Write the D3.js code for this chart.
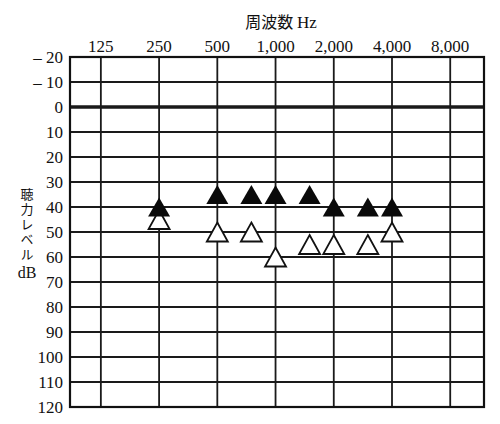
<!DOCTYPE html>
<html>
<head>
<meta charset="utf-8">
<script src="https://cdn.jsdelivr.net/npm/d3@7"></script>
<style>
  body { margin: 0; background: #fff; }
  text { fill: #111; }
</style>
</head>
<body>
<div id="chart"></div>
<script>
// audiogram values
var freqTicks = [125, 250, 500, 1000, 2000, 4000, 8000];
var freqLabels = ["125", "250", "500", "1,000", "2,000", "4,000", "8,000"];
var levelTicks = [-20, -10, 0, 10, 20, 30, 40, 50, 60, 70, 80, 90, 100, 110, 120];
var levelLabels = ["\u2013 20", "\u2013 10", "0", "10", "20", "30", "40", "50", "60", "70", "80", "90", "100", "110", "120"];
var pointFreqs = [250, 500, 750, 1000, 1500, 2000, 3000, 4000];
var filledLevels = [40, 35, 35, 35, 35, 40, 40, 40];
var openLevels = [45, 50, 50, 60, 55, 55, 55, 50];
var yTitle = "聴力レベル";
var yUnit = "dB";

var margin = {top: 57, right: 16, bottom: 17, left: 70},
    width = 500 - margin.left - margin.right,
    height = 424 - margin.top - margin.bottom;

var svg = d3.select("#chart").append("svg")
    .attr("width", 500)
    .attr("height", 424)
  .append("g")
    .attr("transform", "translate(" + margin.left + "," + margin.top + ")");

// log frequency axis, a little over half an octave padding each side
var x = d3.scaleLog().base(2)
    .domain([125 / Math.pow(2, 0.53), 8000 * Math.pow(2, 0.58)])
    .range([0, width]);

var y = d3.scaleLinear()
    .domain([-20, 120])
    .range([0, height]);

// horizontal grid
svg.selectAll(".hline")
    .data(levelTicks)
    .enter().append("line")
    .attr("x1", 0).attr("x2", width)
    .attr("y1", d => y(d)).attr("y2", d => y(d))
    .style("stroke", "#1a1a1a")
    .style("stroke-width", d => d === 0 ? 3.5 : 1.8);

// vertical grid
svg.selectAll(".vline")
    .data(freqTicks)
    .enter().append("line")
    .attr("x1", d => x(d)).attr("x2", d => x(d))
    .attr("y1", 0).attr("y2", height)
    .style("stroke", "#1a1a1a")
    .style("stroke-width", 1.8);

// frame
svg.append("rect")
    .attr("width", width).attr("height", height)
    .style("fill", "none")
    .style("stroke", "#111")
    .style("stroke-width", 2.2);

// top frequency labels
svg.append("g").selectAll("text")
    .data(freqTicks)
    .enter().append("text")
    .attr("x", d => x(d))
    .attr("y", -5)
    .style("text-anchor", "middle")
    .style("font", "17px 'Liberation Serif'")
    .text((d, i) => freqLabels[i]);

// left level labels
svg.append("g").selectAll("text")
    .data(levelTicks)
    .enter().append("text")
    .attr("x", -7)
    .attr("y", d => y(d))
    .attr("dy", "0.35em")
    .style("text-anchor", "end")
    .style("font", "17px 'Liberation Serif'")
    .text((d, i) => levelLabels[i]);

// title
var title = svg.append("text")
    .attr("x", 211)
    .attr("y", -29)
    .style("text-anchor", "middle");
title.append("tspan")
    .style("font", "16px 'Noto Sans CJK JP'")
    .text("周波数 ");
title.append("tspan")
    .style("font", "17px 'Liberation Serif'")
    .text("Hz");

// vertical y title, then the unit below it
svg.append("text")
    .attr("x", 27 - margin.left)
    .attr("y", 188 - margin.top)
    .style("writing-mode", "vertical-rl")
    .style("letter-spacing", "2px")
    .style("font", "13px 'Noto Sans CJK JP'")
    .text(yTitle);

svg.append("text")
    .attr("x", 27 - margin.left)
    .attr("y", 278 - margin.top)
    .style("text-anchor", "middle")
    .style("font", "16px 'Liberation Serif'")
    .text(yUnit);

// triangle centred on its bounding box
function tri(w, h) {
  return "M0," + (-h / 2) + "L" + (w / 2) + "," + (h / 2) + "L" + (-w / 2) + "," + (h / 2) + "Z";
}

svg.selectAll(".open")
    .data(pointFreqs)
    .enter().append("path")
    .attr("d", tri(21, 19))
    .attr("transform", (d, i) => "translate(" + x(d) + "," + y(openLevels[i]) + ")")
    .style("fill", "#fff")
    .style("stroke", "#111")
    .style("stroke-width", 1.8)
    .style("stroke-linejoin", "miter");

svg.selectAll(".filled")
    .data(pointFreqs)
    .enter().append("path")
    .attr("d", tri(22, 19))
    .attr("transform", (d, i) => "translate(" + x(d) + "," + y(filledLevels[i]) + ")")
    .style("fill", "#0a0a0a");
</script>
</body>
</html>
